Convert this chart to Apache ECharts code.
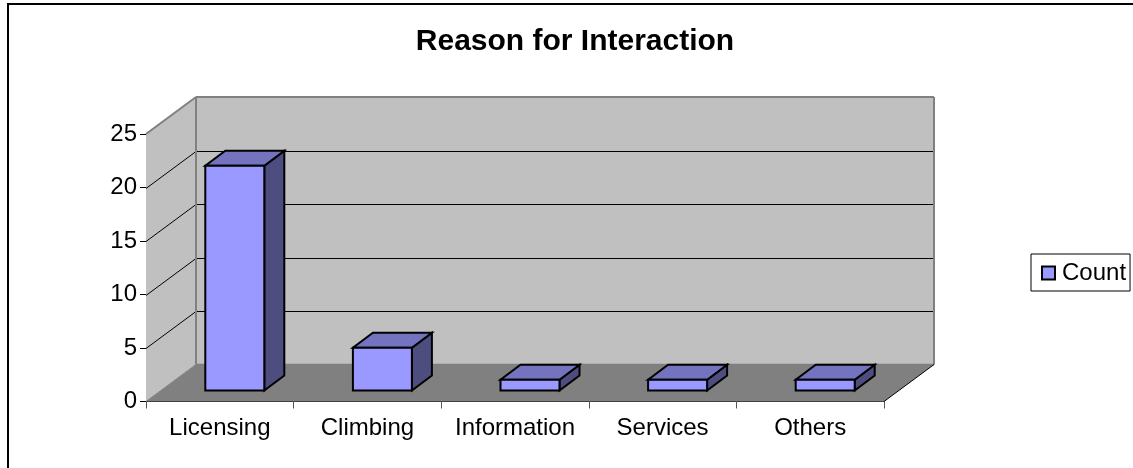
<!DOCTYPE html>
<html><head><meta charset="utf-8">
<style>html,body{margin:0;padding:0;background:#fff}#c{width:1133px;height:468px}</style>
<script src="https://cdn.jsdelivr.net/npm/echarts@6/dist/echarts.min.js"></script>
</head><body><div id="c"></div>
<script>
const categories = ['Licensing','Climbing','Information','Services','Others'];
const counts = [21,4,1,1,1];
const yTicks = [0,5,10,15,20,25];
const seriesName = 'Count';

const DX = 50, DY = -37;          // wall depth
const BX = 15, BY = -11;          // bar inset from front
const BDX = 20, BDY = -15;        // bar depth
const FONT = 'Liberation Sans, Arial, sans-serif';
const BLUE = '#9999ff', TOP = '#7373bf', SIDE = '#4d4d80';

function poly(pts, fill, stroke, lw, z2){
  return {type:'polygon', z2:z2||0, shape:{points:pts},
    style:{fill:fill, stroke:stroke||null, lineWidth:lw||0, lineJoin:'miter'}};
}
function line(a,b,stroke,lw,z2){
  return {type:'line', z2:z2||0, shape:{x1:a[0],y1:a[1],x2:b[0],y2:b[1]}, style:{stroke:stroke,lineWidth:lw}};
}
function renderWalls(params, api){
  const cs = params.coordSys;
  const l = cs.x, r = cs.x+cs.width, b = cs.y+cs.height, t = cs.y;
  const ch = [];
  ch.push(poly([[l,b],[r,b],[r+DX,b+DY],[l+DX,b+DY]],'#808080'));
  ch.push(poly([[l,b],[l+DX,b+DY],[l+DX,t+DY],[l,t]],'#c0c0c0'));
  ch.push(poly([[l+DX,b+DY],[r+DX,b+DY],[r+DX,t+DY],[l+DX,t+DY]],'#c0c0c0'));
  yTicks.forEach(function(v){
    const y = Math.round(api.coord([0,v])[1]) + 0.5;
    if (v===0 || v===25) return;
    ch.push(line([l,y],[l+DX,y+DY],'#000',1));
    ch.push(line([l+DX,y+DY],[r+DX,y+DY],'#000',1));
  });
  ch.push(line([l,t],[l+DX,t+DY],'#808080',2));
  ch.push(line([l+DX,t+DY],[r+DX,t+DY],'#808080',2));
  ch.push(line([l+DX,t+DY],[l+DX,b+DY],'#808080',2));
  ch.push(line([r+DX,t+DY],[r+DX,b+DY],'#808080',2));
  ch.push(line([l+DX,b+DY],[r+DX,b+DY],'#808080',1.5));
  ch.push(line([l,b],[l+DX,b+DY],'#808080',1));
  ch.push(line([r,b],[r+DX,b+DY],'#000',1));
  return {type:'group', children:ch};
}
function renderBar(params, api){
  const i = api.value(0), v = api.value(1);
  const top = api.coord([i,v]), base = api.coord([i,0]);
  const w = 59;
  const x0 = top[0]-w/2+BX, x1 = x0+w, yt = top[1]+BY, yb = base[1]+BY;
  return {type:'group', children:[
    poly([[x1,yb],[x1+BDX,yb+BDY],[x1+BDX,yt+BDY],[x1,yt]],SIDE,'#000',2),
    poly([[x0,yt],[x1,yt],[x1+BDX,yt+BDY],[x0+BDX,yt+BDY]],TOP,'#000',2),
    poly([[x0,yb],[x1,yb],[x1,yt],[x0,yt]],BLUE,'#000',2)
  ]};
}
const chart = echarts.init(document.getElementById('c'),null,{renderer:'canvas'});
chart.setOption({
  animation:false,
  backgroundColor:'#fff',
  title:{text:'Reason for Interaction',left:570,top:22,textAlign:'center',
    textStyle:{fontFamily:FONT,fontSize:30,fontWeight:'bold',color:'#000'}},
  graphic:[{type:'rect',silent:true,z:-1,shape:{x:8,y:4,width:1300,height:700},
    style:{fill:'#fff',stroke:'#000',lineWidth:2}}],
  legend:{show:true,left:1031,top:254,orient:'vertical',data:[{name:seriesName,icon:'rect',
      itemStyle:{color:BLUE,borderColor:'#000',borderWidth:2}}],
    itemWidth:13,itemHeight:13,itemGap:0,padding:[5,4,4,10],
    backgroundColor:'#fff',borderColor:'#000',borderWidth:1,
    textStyle:{fontFamily:FONT,fontSize:24,color:'#000',lineHeight:25,padding:[0,0,3,2]}},
  grid:{left:146,right:249,top:134,bottom:66.5},
  xAxis:{type:'category',data:categories,boundaryGap:true,
    axisLine:{lineStyle:{color:'#000',width:1}},
    axisTick:{show:true,alignWithLabel:false,length:7,lineStyle:{color:'#555'}},
    axisLabel:{interval:0,fontFamily:FONT,fontSize:24,color:'#000',margin:15},splitLine:{show:false}},
  yAxis:{type:'value',min:0,max:25,interval:5,
    axisLine:{show:true,lineStyle:{color:'#000',width:1}},
    axisTick:{show:true,length:6,lineStyle:{color:'#000'}},
    axisLabel:{fontFamily:FONT,fontSize:24,color:'#000',margin:9,padding:[5,0,0,0]},splitLine:{show:false}},
  series:[
    {type:'custom',name:'walls',silent:true,z:1,renderItem:renderWalls,data:[[0,0]],encode:{x:0,y:1},tooltip:{show:false}},
    {type:'custom',name:seriesName,z:3,renderItem:renderBar,itemStyle:{color:BLUE},
      data:counts.map(function(v,i){return [i,v];}),encode:{x:0,y:1}}
  ]
});
</script></body></html>
